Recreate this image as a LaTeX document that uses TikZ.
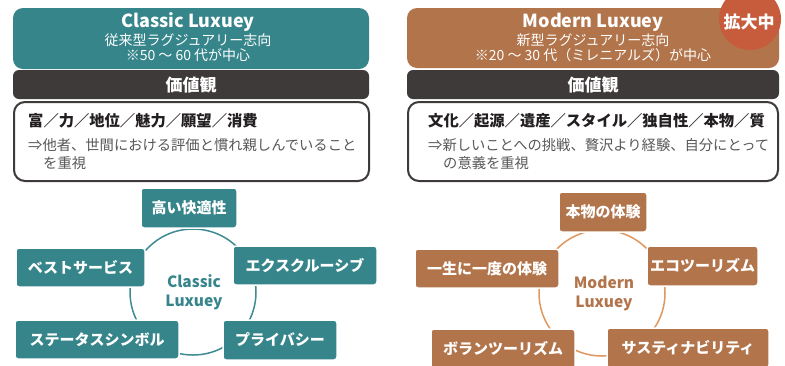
\documentclass[tikz,border=0pt]{standalone}
\usepackage{fontspec}
\setmainfont{Noto Sans CJK JP}
\definecolor{tealc}{HTML}{36858B}
\definecolor{tealline}{HTML}{3E8C92}
\definecolor{brownc}{HTML}{B2744A}
\definecolor{brownline}{HTML}{E0985E}
\definecolor{redc}{HTML}{C65C3C}
\definecolor{darkc}{HTML}{3E3A39}
\definecolor{graytext}{HTML}{595757}
\definecolor{blacktext}{HTML}{231F20}
\tikzset{
  hdrbox/.style={rounded corners=10pt, inner sep=0pt},
  barbox/.style={fill=darkc, rounded corners=6pt, inner sep=0pt, minimum width=372pt, minimum height=29pt},
  wbox/.style={draw=darkc, fill=white, line width=2pt, rounded corners=11pt, inner sep=0pt},
  ttl/.style={text=white, font=\fontsize{18}{22}\selectfont\bfseries, inner sep=0pt},
  sub/.style={text=white, font=\fontsize{14}{16}\selectfont, inner sep=0pt},
  bartxt/.style={text=white, font=\fontsize{17}{20}\selectfont\bfseries, inner sep=0pt},
  kw/.style={text=blacktext, font=\fontsize{15.3}{18}\selectfont\bfseries, inner sep=0pt, anchor=west},
  expl/.style={text=graytext, font=\fontsize{14.3}{18}\selectfont, inner sep=0pt, anchor=west},
  tnode/.style={fill=tealc, draw=white, line width=1.5pt, rounded corners=3pt, text=white, font=\fontsize{15}{18}\selectfont\bfseries, inner sep=0pt},
  bnode/.style={fill=brownc, draw=white, line width=1.5pt, rounded corners=3pt, text=white, font=\fontsize{15}{18}\selectfont\bfseries, inner sep=0pt},
  ctr/.style={font=\fontsize{15.5}{19}\selectfont\bfseries, align=center, inner sep=0pt},
}
\begin{document}
\begin{tikzpicture}[x=1pt,y=-1pt]
\useasboundingbox (0,0) rectangle (785,365);
\clip (0,0) rectangle (785,365);
\fill[white] (0,0) rectangle (785,365);

% ---------- Left header ----------
\node[hdrbox, fill=tealc, minimum width=356pt, minimum height=61pt] (hdrL) at (191,38.5) {};
\node[ttl] (ttlL) at (188,22) {Classic Luxuey};
\node[sub] (sub1L) at (188,40) {従来型ラグジュアリー志向};
\node[sub] (sub2L) at (188,55) {※50 ～ 60 代が中心};
\node[barbox, minimum width=356pt] (barL) at (191,84.5) {};
\node[bartxt] (barLt) at (191,84.5) {価値観};
\node[wbox, minimum width=355pt, minimum height=79pt] (boxL) at (191.5,141.5) {};
\node[kw] (kwL) at (28,121) {富／力／地位／魅力／願望／消費};
\node[expl] (ex1L) at (28,145) {⇒他者、世間における評価と慣れ親しんでいること};
\node[expl] (ex2L) at (43,163) {を重視};

% ---------- Right header ----------
\node[hdrbox, fill=brownc, minimum width=372pt, minimum height=60pt] (hdrR) at (593,38) {};
\node[ttl] (ttlR) at (593,22) {Modern Luxuey};
\node[sub] (sub1R) at (593,40) {新型ラグジュアリー志向};
\node[sub] (sub2R) at (593,55) {※20 ～ 30 代（ミレニアルズ）が中心};
\node[circle, fill=redc, minimum size=62pt, inner sep=0pt] (badge) at (750,19) {};
\node[text=white, font=\fontsize{17}{20}\selectfont\bfseries, inner sep=0pt] (badget) at (749,22) {拡大中};
\node[barbox] (barR) at (593,84.5) {};
\node[bartxt] (barRt) at (593,84.5) {価値観};
\node[wbox, minimum width=370pt, minimum height=79pt] (boxR) at (593,141.5) {};
\node[kw] (kwR) at (428,121) {文化／起源／遺産／スタイル／独自性／本物／質};
\node[expl] (ex1R) at (428,145) {⇒新しいことへの挑戦、贅沢より経験、自分にとって};
\node[expl] (ex2R) at (443,163) {の意義を重視};

% ---------- Left ring ----------
\node[ctr, text=tealc] (cL) at (194,292) {Classic\\Luxuey};
\draw[tealline, line width=1.5pt] (193,292) circle (63pt);
\node[tnode, minimum width=96pt, minimum height=40pt] (n1) at (189,208) {高い快適性};
\node[tnode, minimum width=129pt, minimum height=39pt] (n2) at (80.5,267.5) {ベストサービス};
\node[tnode, minimum width=144pt, minimum height=39pt] (n3) at (305,265.5) {エクスクルーシブ};
\node[tnode, minimum width=164pt, minimum height=39pt] (n4) at (97,339.5) {ステータスシンボル};
\node[tnode, minimum width=114pt, minimum height=40pt] (n5) at (280,340) {プライバシー};

% ---------- Right ring ----------
\node[ctr, text=brownc] (cR) at (604,293) {Modern\\Luxuey};
\draw[brownline, line width=1.5pt] (602,293) circle (63pt);
\node[bnode, minimum width=88pt, minimum height=40pt] (m1) at (603,212) {本物の体験};
\node[bnode, minimum width=144pt, minimum height=39pt] (m2) at (487,268.5) {一生に一度の体験};
\node[bnode, minimum width=111pt, minimum height=40pt] (m3) at (702.5,266) {エコツーリズム};
\node[bnode, minimum width=144pt, minimum height=40pt] (m4) at (503,349) {ボランツーリズム};
\node[bnode, minimum width=162pt, minimum height=40pt] (m5) at (688,348) {サスティナビリティ};
\end{tikzpicture}
\end{document}
